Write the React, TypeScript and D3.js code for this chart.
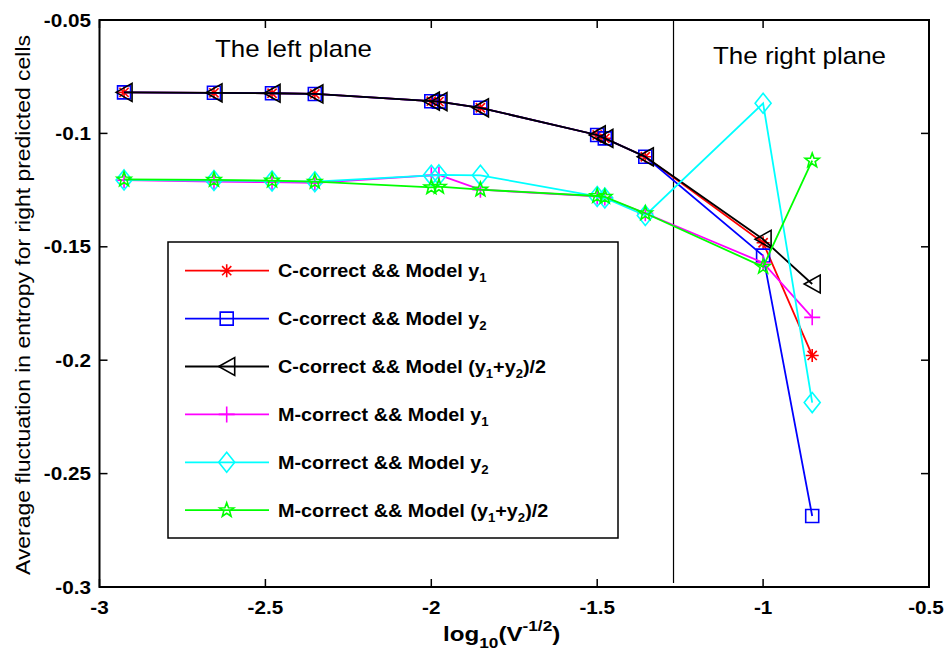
import React from "react";
import * as d3 from "d3";

const xValues = [-2.926, -2.655, -2.48, -2.351, -2.0, -1.977, -1.852, -1.5, -1.477, -1.355, -1.0, -0.852];

const cY1 = [-0.0819, -0.0821, -0.0823, -0.0826, -0.0858, -0.086, -0.0887, -0.1007, -0.1022, -0.1103, -0.1482, -0.1979];
const cY2 = [-0.0819, -0.0821, -0.0823, -0.0826, -0.0858, -0.086, -0.0887, -0.1007, -0.1022, -0.1103, -0.1539, -0.2687];
const cAvg = [-0.0819, -0.0821, -0.0823, -0.0826, -0.0858, -0.086, -0.0887, -0.1007, -0.1022, -0.1103, -0.1467, -0.1664];
const mY1 = [-0.1206, -0.1213, -0.1215, -0.1218, -0.1185, -0.1183, -0.1248, -0.1278, -0.1283, -0.1352, -0.157, -0.1811];
const mY2 = [-0.1205, -0.1208, -0.121, -0.1213, -0.1185, -0.1183, -0.1185, -0.1278, -0.1285, -0.1362, -0.0867, -0.2187];
const mAvg = [-0.1203, -0.1205, -0.1208, -0.1213, -0.1238, -0.1235, -0.1248, -0.1276, -0.128, -0.1352, -0.1588, -0.112];

const xTicks = [-3, -2.5, -2, -1.5, -1, -0.5];
const yTicks = [-0.3, -0.25, -0.2, -0.15, -0.1, -0.05];
const dividerX = -1.27;

type Marker = "asterisk" | "square" | "triangleLeft" | "plus" | "diamond" | "pentagram";

const series: { name: string; values: number[]; color: string; marker: Marker; label: [string, string?] }[] = [
  { name: "cy1", values: cY1, color: "#ff0000", marker: "asterisk", label: ["C-correct && Model y", "1"] },
  { name: "cy2", values: cY2, color: "#0000ff", marker: "square", label: ["C-correct && Model y", "2"] },
  { name: "cavg", values: cAvg, color: "#000000", marker: "triangleLeft", label: ["C-correct && Model (y", "avg"] },
  { name: "my1", values: mY1, color: "#ff00ff", marker: "plus", label: ["M-correct && Model y", "1"] },
  { name: "my2", values: mY2, color: "#00ffff", marker: "diamond", label: ["M-correct && Model y", "2"] },
  { name: "mavg", values: mAvg, color: "#00ff00", marker: "pentagram", label: ["M-correct && Model (y", "avg"] },
];

const FONT = "'Liberation Sans', Arial, Helvetica, sans-serif";

function markerPath(m: Marker): string {
  switch (m) {
    case "asterisk": {
      const r = 6.5, d = 4.6;
      return `M0,${-r}L0,${r}M${-r},0L${r},0M${-d},${-d}L${d},${d}M${-d},${d}L${d},${-d}`;
    }
    case "square":
      return "M-6.5,-6.5H6.5V6.5H-6.5Z";
    case "triangleLeft":
      return "M-8,0L8,-9L8,9Z";
    case "plus":
      return "M0,-8V8M-8,0H8";
    case "diamond":
      return "M0,-10L8,0L0,10L-8,0Z";
    case "pentagram": {
      const pts: string[] = [];
      for (let i = 0; i < 10; i++) {
        const r = i % 2 === 0 ? 7.5 : 3.1;
        const a = -Math.PI / 2 + (i * Math.PI) / 5;
        pts.push(`${(r * Math.cos(a)).toFixed(2)},${(r * Math.sin(a)).toFixed(2)}`);
      }
      return "M" + pts.join("L") + "Z";
    }
  }
}

const W = 944;
const H = 656;
const x = d3.scaleLinear().domain([-3, -0.5]).range([99.5, 929]);
const y = d3.scaleLinear().domain([-0.3, -0.05]).range([587, 20]);

function LegendLabel({ lx, ly, s }: { lx: number; ly: number; s: (typeof series)[number] }) {
  const [main, sub] = s.label;
  return (
    <text
      transform={`translate(${lx},${ly}) scale(1.1,1)`}
      fontFamily={FONT}
      fontWeight="bold"
      fontSize={18}
      fill="#000"
    >
      {sub === "avg" ? (
        <>
          <tspan>{main}</tspan>
          <tspan fontSize={12} dy={5}>1</tspan>
          <tspan dy={-5}>+y</tspan>
          <tspan fontSize={12} dy={5}>2</tspan>
          <tspan dy={-5}>)/2</tspan>
        </>
      ) : (
        <>
          <tspan>{main}</tspan>
          <tspan fontSize={12} dy={5}>{sub}</tspan>
        </>
      )}
    </text>
  );
}

export default function App() {
  const line = d3
    .line<number>()
    .x((_, i) => x(xValues[i]))
    .y((v) => y(v));

  const plotL = x(-3), plotR = x(-0.5), plotT = y(-0.05), plotB = y(-0.3);

  const legL = 168, legT = 242, legR = 618, legB = 538;
  const rowY = (i: number) => 270.7 + i * 47.9;

  return (
    <svg width={W} height={H} viewBox={`0 0 ${W} ${H}`} style={{ position: "absolute", left: 0, top: 0, background: "#fff" }}>
      <rect x={0} y={0} width={W} height={H} fill="#fff" />

      {/* divider */}
      <line x1={x(dividerX)} x2={x(dividerX)} y1={plotT} y2={plotB - 4} stroke="#000" strokeWidth={1.2} />

      {/* series */}
      {series.map((s) => (
        <g key={s.name}>
          <path d={line(s.values) || ""} fill="none" stroke={s.color} strokeWidth={1.8} />
          {s.values.map((v, i) => (
            <path
              key={i}
              d={markerPath(s.marker)}
              transform={`translate(${x(xValues[i])},${y(v)})`}
              fill="none"
              stroke={s.color}
              strokeWidth={1.6}
            />
          ))}
        </g>
      ))}

      {/* axes box */}
      <rect x={plotL} y={plotT} width={plotR - plotL} height={plotB - plotT} fill="none" stroke="#000" strokeWidth={2} />

      {/* ticks */}
      {xTicks.map((t) => (
        <g key={"xt" + t}>
          <line x1={x(t)} x2={x(t)} y1={plotB} y2={plotB - 8} stroke="#000" strokeWidth={1.5} />
          <line x1={x(t)} x2={x(t)} y1={plotT} y2={plotT + 8} stroke="#000" strokeWidth={1.5} />
          <text
            transform={`translate(${t === -0.5 ? x(t) - 3 : x(t)},614) scale(1.15,1)`}
            textAnchor="middle"
            fontFamily={FONT}
            fontWeight="bold"
            fontSize={18}
          >
            {String(t)}
          </text>
        </g>
      ))}
      {yTicks.map((t) => (
        <g key={"yt" + t}>
          <line x1={plotL} x2={plotL + 8} y1={y(t)} y2={y(t)} stroke="#000" strokeWidth={1.5} />
          <line x1={plotR} x2={plotR - 8} y1={y(t)} y2={y(t)} stroke="#000" strokeWidth={1.5} />
          <text
            transform={`translate(91,${y(t) + 6.5}) scale(1.15,1)`}
            textAnchor="end"
            fontFamily={FONT}
            fontWeight="bold"
            fontSize={18}
          >
            {String(t)}
          </text>
        </g>
      ))}

      {/* plane labels */}
      <text x={215} y={57} fontFamily={FONT} fontSize={24} textLength={157} lengthAdjust="spacingAndGlyphs">
        The left plane
      </text>
      <text x={713} y={64} fontFamily={FONT} fontSize={24} textLength={173} lengthAdjust="spacingAndGlyphs">
        The right plane
      </text>

      {/* legend */}
      <rect x={legL} y={legT} width={legR - legL} height={legB - legT} fill="#fff" stroke="#000" strokeWidth={1.5} />
      {series.map((s, i) => (
        <g key={"lg" + s.name}>
          <line x1={185} x2={269} y1={rowY(i)} y2={rowY(i)} stroke={s.color} strokeWidth={1.8} />
          <path
            d={markerPath(s.marker)}
            transform={`translate(226.7,${rowY(i)})`}
            fill="none"
            stroke={s.color}
            strokeWidth={1.6}
          />
          <LegendLabel lx={278} ly={rowY(i) + 6.5} s={s} />
        </g>
      ))}

      {/* axis titles */}
      <text
        transform={`translate(30,305) rotate(-90)`}
        textAnchor="middle"
        fontFamily={FONT}
        fontSize={20}
        textLength={540}
        lengthAdjust="spacingAndGlyphs"
      >
        Average fluctuation in entropy for right predicted cells
      </text>
      <text transform={`translate(443,641) scale(1.15,1)`} fontFamily={FONT} fontWeight="bold" fontSize={21}>
        <tspan>log</tspan>
        <tspan fontSize={15} dy={7}>10</tspan>
        <tspan dy={-7}>(V</tspan>
        <tspan fontSize={15} dy={-10}>-1/2</tspan>
        <tspan dy={10}>)</tspan>
      </text>
    </svg>
  );
}
